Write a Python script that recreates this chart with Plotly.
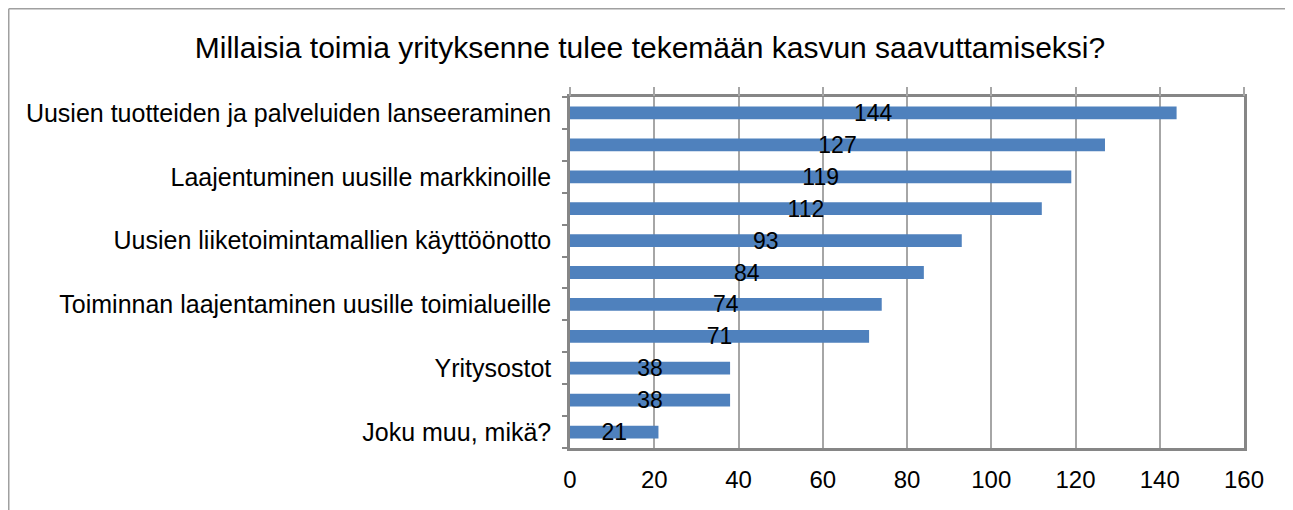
import plotly.graph_objects as go

title_text = "Millaisia toimia yrityksenne tulee tekemään kasvun saavuttamiseksi?"
categories = [
    "Uusien tuotteiden ja palveluiden lanseeraminen",
    "",
    "Laajentuminen uusille markkinoille",
    "",
    "Uusien liiketoimintamallien käyttöönotto",
    "",
    "Toiminnan laajentaminen uusille toimialueille",
    "",
    "Yritysostot",
    "",
    "Joku muu, mikä?",
]
values = [144, 127, 119, 112, 93, 84, 74, 71, 38, 38, 21]
x_ticks = [0, 20, 40, 60, 80, 100, 120, 140, 160]

positions = list(range(len(values)))
boundaries = [p - 0.5 for p in positions] + [positions[-1] + 0.5]

FONT = "Liberation Sans"
BAR = "#4F81BD"
FRAME = "#868686"
GRID = "#a6a6a6"

# page body has an 8px margin, so the figure is sized/offset to compensate
W, H = 1285, 502
L, R, T, B = 562, 49, 89, 62
PW, PH = W - L - R, H - T - B


def px_x(X):
    return (X - L) / PW


def px_y(Y):
    return (H - B - Y) / PH


fig = go.Figure()
fig.add_trace(go.Bar(
    x=values, y=positions, orientation="h",
    marker=dict(color=BAR, line=dict(width=0)),
    width=0.4,
    text=values, texttemplate="%{x}",
    textposition="inside", insidetextanchor="middle", textangle=0,
    textfont=dict(family=FONT, size=23, color="black"),
    cliponaxis=False, showlegend=False, hoverinfo="skip",
))
# empty helper trace so the overlay axes (outer tick marks) are drawn
fig.add_trace(go.Scatter(x=[], y=[], xaxis="x2", yaxis="y2",
                         showlegend=False, hoverinfo="skip"))

fig.update_layout(
    width=W, height=H,
    margin=dict(l=L, r=R, t=T, b=B, autoexpand=False),
    paper_bgcolor="white", plot_bgcolor="white",
    uniformtext=dict(minsize=23, mode="show"),
    title=dict(text=title_text, x=642 / W, xanchor="center", y=1 - 39 / H,
               yanchor="middle", yref="container", automargin=False,
               font=dict(family=FONT, size=30, color="black")),
    xaxis=dict(range=[0, 160], tickvals=x_ticks, showgrid=True, gridcolor=GRID,
               gridwidth=1.5, zeroline=False, showline=True, linecolor=FRAME,
               linewidth=2.5, mirror=True, ticks="", ticklabelstandoff=8,
               automargin=False,
               tickfont=dict(family=FONT, size=24, color="black")),
    xaxis2=dict(range=[0, 160], tickvals=x_ticks, overlaying="x", side="top",
                anchor="y2", showgrid=False, zeroline=False, showline=False,
                ticks="outside", ticklen=9, tickwidth=1.5, tickcolor=GRID,
                showticklabels=False, automargin=False),
    yaxis=dict(range=[len(values) - 0.5, -0.5], tickvals=positions,
               ticktext=categories, showgrid=False, zeroline=False,
               showline=True, linecolor=FRAME, linewidth=2.5, mirror=True,
               ticks="", ticklabelstandoff=11, automargin=False,
               tickfont=dict(family=FONT, size=25, color="black")),
    yaxis2=dict(range=[len(values) - 0.5, -0.5], tickvals=boundaries,
                overlaying="y", side="left", anchor="x2", showgrid=False,
                zeroline=False, showline=False, ticks="outside", ticklen=7,
                tickwidth=1.5, tickcolor=FRAME, showticklabels=False,
                automargin=False),
    shapes=[
        # outer chart border: left and top (grey), right (very light)
        dict(type="line", xref="paper", yref="paper",
             x0=px_x(0.75), x1=px_x(0.75), y0=px_y(H + 20), y1=px_y(0.75),
             line=dict(color="#a0a0a0", width=1.5), layer="below"),
        dict(type="line", xref="paper", yref="paper",
             x0=px_x(0.75), x1=px_x(W), y0=px_y(0.75), y1=px_y(0.75),
             line=dict(color="#a0a0a0", width=1.5), layer="below"),
        dict(type="line", xref="paper", yref="paper",
             x0=px_x(W - 1), x1=px_x(W - 1), y0=px_y(H + 20), y1=px_y(0.75),
             line=dict(color="#e8e8e8", width=1.5), layer="below"),
    ],
)

fig.write_html("out.html")
